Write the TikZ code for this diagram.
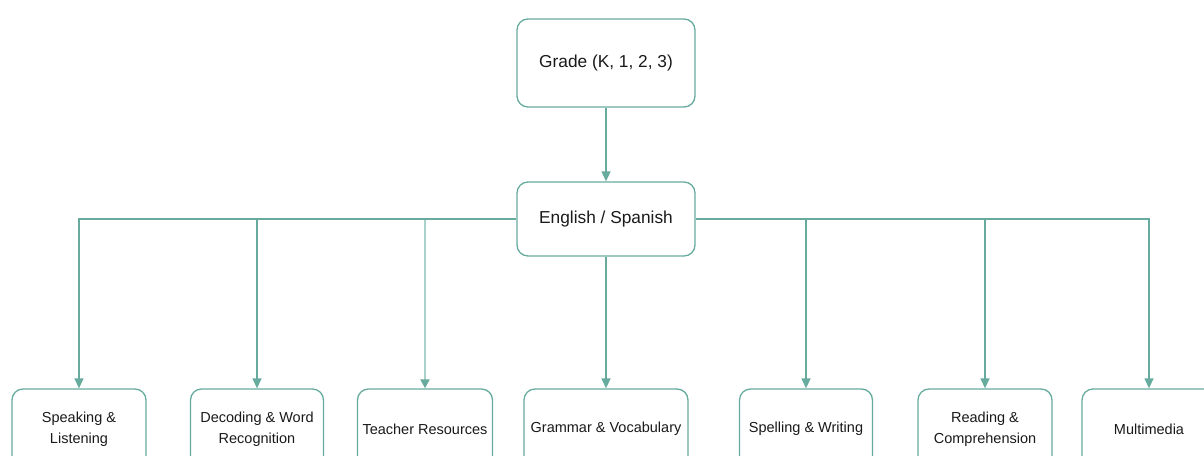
\documentclass[tikz,border=0pt]{standalone}
\usepackage{fontspec}
\setmainfont{Liberation Sans}
\usetikzlibrary{arrows.meta}
\definecolor{edge}{HTML}{67AB9F}
\definecolor{edgelight}{HTML}{A8D2CA}
\definecolor{txt}{HTML}{1A1A1A}
\tikzset{
  box/.style={draw=edge, line width=1.3pt, rounded corners=11pt, fill=white, inner sep=0pt, align=center, text=txt},
  topbox/.style={box, minimum width=178pt, font=\fontsize{17.3}{21}\selectfont},
  leaf/.style={box, minimum height=80pt, font=\fontsize{14.5}{21}\selectfont},
  arr/.style={draw=edge, line width=1.3pt, -{Triangle[length=10pt,width=9pt]}},
  arrlight/.style={draw=edgelight, line width=2.2pt, -{Triangle[length=9pt,width=9pt,color=edge]}}
}
\begin{document}
\begin{tikzpicture}[x=1pt,y=1pt]
\useasboundingbox (0,0) rectangle (1204,-455);
\clip (0,0) rectangle (1204,-455);
\node[topbox, minimum height=88pt] (g) at (606,-63) {Grade (K, 1, 2, 3)};
\node[topbox, minimum height=74pt] (en) at (606,-219) {English / Spanish};
\node[leaf, minimum width=134pt] (sl) at (79,-429) {Speaking \&\\Listening};
\node[leaf, minimum width=133pt] (dw) at (257,-429) {Decoding \& Word\\Recognition};
\node[leaf, minimum width=135pt] (tr) at (425,-429) {Teacher Resources};
\node[leaf, minimum width=164pt] (gv) at (606,-429) {Grammar \& Vocabulary};
\node[leaf, minimum width=133pt] (sw) at (806,-429) {Spelling \& Writing};
\node[leaf, minimum width=134pt] (rc) at (985,-429) {Reading \&\\Comprehension};
\node[leaf, minimum width=134pt] (mm) at (1149,-429) {Multimedia};
\draw[arrlight] (en.west) -| (tr.north);
\draw[arr] (g.south) -- (en.north);
\draw[arr] (en.south) -- (gv.north);
\draw[arr] (en.west) -| (sl.north);
\draw[arr] (en.west) -| (dw.north);
\draw[arr] (en.east) -| (sw.north);
\draw[arr] (en.east) -| (rc.north);
\draw[arr] (en.east) -| (mm.north);
\end{tikzpicture}
\end{document}
